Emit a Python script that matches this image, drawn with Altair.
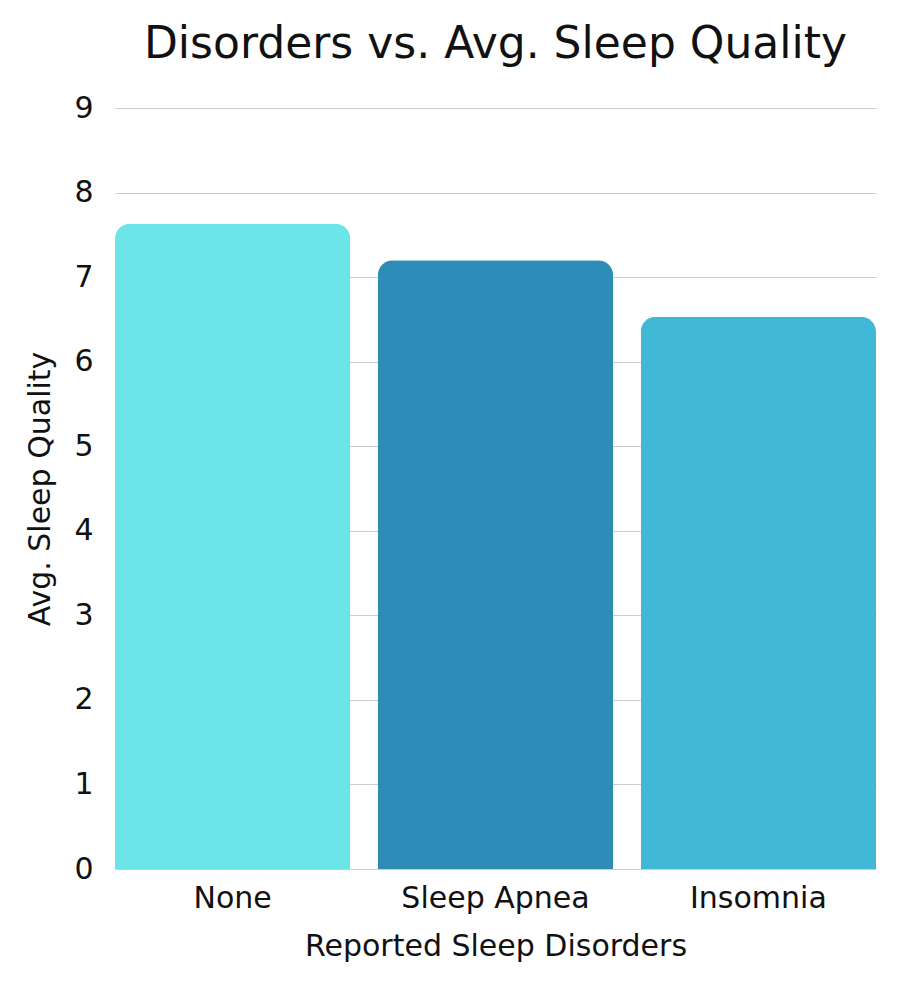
import altair as alt
import pandas as pd

categories = ["None", "Sleep Apnea", "Insomnia"]
values = [7.63, 7.20, 6.53]
colors = ["#6CE5E8", "#2E8CB9", "#41B8D5"]

df = pd.DataFrame({"disorder": categories, "quality": values})

FONT = "DejaVu Sans"

chart = (
    alt.Chart(df)
    .mark_bar(cornerRadiusTopLeft=15, cornerRadiusTopRight=15)
    .encode(
        x=alt.X(
            "disorder:N",
            sort=categories,
            scale=alt.Scale(paddingInner=0.105, paddingOuter=0),
            axis=alt.Axis(
                title="Reported Sleep Disorders",
                labelAngle=0,
                labelLimit=0,
                ticks=False,
                domain=False,
                labelPadding=14,
                titlePadding=18,
            ),
        ),
        y=alt.Y(
            "quality:Q",
            scale=alt.Scale(domain=[0, 9]),
            axis=alt.Axis(
                title="Avg. Sleep Quality",
                values=list(range(10)),
                ticks=False,
                domain=False,
                labelPadding=22,
                titlePadding=18,
            ),
        ),
        color=alt.Color(
            "disorder:N",
            scale=alt.Scale(domain=categories, range=colors),
            legend=None,
        ),
    )
    .properties(
        width=761,
        height=761,
        title=alt.TitleParams(
            "Disorders vs. Avg. Sleep Quality",
            fontSize=44,
            font=FONT,
            fontWeight="normal",
            color="#111111",
            anchor="middle",
            offset=26,
        ),
        autosize=alt.AutoSizeParams(type="none"),
        padding={"left": 107, "top": 100, "right": 22, "bottom": 115},
    )
    .configure_axis(
        labelFont=FONT,
        titleFont=FONT,
        labelFontSize=30,
        titleFontSize=30,
        labelColor="#111111",
        titleColor="#111111",
        titleFontWeight="normal",
        gridColor="#cccccc",
        gridWidth=1,
    )
    .configure_axisX(grid=False)
    .configure_view(stroke=None)
)

chart.save("out.html", embed_options={"renderer": "svg", "actions": False})
